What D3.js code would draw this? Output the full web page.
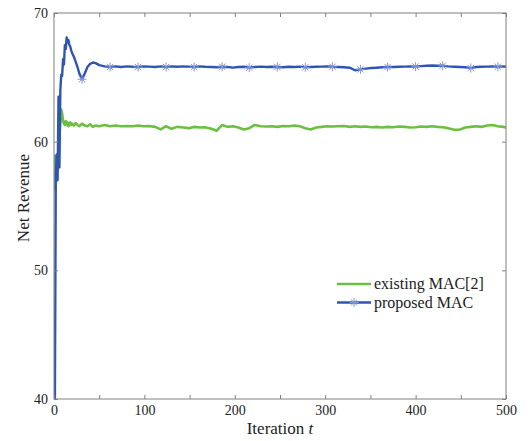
<!DOCTYPE html>
<meta charset="utf-8">
<script src="https://d3js.org/d3.v7.min.js"></script>
<style>
  body { margin: 0; background: #fff; }
  text { font-family: "Liberation Serif", "Times New Roman", serif; fill: #222; }
</style>
<div id="chart"></div>
<script>

var iters = [0,1,2,3,4,5,6,7,8,9,10,11,12,13,14,15,16,17,18,19,20,
  22,24,26,28,31,34,37,40,43,46,50,
  56,62,68,74,81,87,93,99,105,112,118,124,130,136,143,149,155,
  161,167,174,180,186,192,198,204,210,216,222,229,235,241,247,
  253,260,266,272,278,284,290,296,302,308,314,321,327,333,339,
  345,351,357,363,369,375,382,388,394,400,406,412,418,424,430,
  436,443,449,455,461,467,473,479,485,491,497,500];

// proposed MAC
var proposed = [40,40,57.5,59.0,57.0,63.5,58.0,64.0,65.2,65.1,66.4,66.0,67.5,67.2,68.1,67.7,67.9,67.5,67.4,67.1,66.9,
  66.6,66.2,65.8,65.3,64.85,65.3,65.8,66.05,66.15,66.1,65.95,
  65.85,65.8,65.85,65.8,65.85,65.82,65.8,65.85,65.83,65.8,65.85,65.8,65.85,65.82,65.85,65.83,65.8,
  65.85,65.82,65.8,65.78,65.82,65.8,65.75,65.8,65.82,65.75,65.8,65.83,65.8,65.82,65.8,
  65.78,65.82,65.8,65.83,65.78,65.8,65.82,65.83,65.85,65.82,65.8,65.78,65.75,65.55,65.62,
  65.68,65.72,65.75,65.78,65.8,65.8,65.82,65.83,65.85,65.83,65.87,65.9,65.92,65.9,65.9,
  65.85,65.82,65.8,65.78,65.72,65.8,65.82,65.83,65.85,65.82,65.85,65.83];

// existing MAC[2]
var existing = [56.2,58.9,58.0,57.5,58.5,59.5,60.5,61.5,62.5,62.2,61.6,61.4,61.3,61.6,61.35,61.5,61.2,61.35,61.5,61.3,61.4,
  61.25,61.45,61.3,61.2,61.4,61.25,61.2,61.35,61.15,61.25,61.2,
  61.3,61.2,61.25,61.2,61.22,61.2,61.25,61.2,61.22,61.15,60.95,61.2,61.0,61.15,61.1,61.05,61.15,
  61.1,61.12,61.0,60.85,61.3,61.15,61.2,61.1,60.95,61.05,61.3,61.2,61.18,61.2,61.15,
  61.22,61.2,61.25,61.2,61.05,60.95,61.1,61.15,61.2,61.18,61.2,61.22,61.15,61.2,61.15,
  61.18,61.12,61.15,61.1,61.15,61.12,61.18,61.15,61.1,61.12,61.18,61.15,61.2,61.15,61.12,
  61.05,60.92,60.95,61.1,61.15,61.2,61.15,61.25,61.3,61.2,61.15,61.1];

// iterations carrying a '*' marker on the proposed curve
var markerIters = [31,62,93,124,155,186,216,247,278,308,339,369,400,430,461,491];

var xTicks = [0,50,100,150,200,250,300,350,400,450,500];
var xLabels = [0,100,200,300,400,500];
var yTicks = [40,50,60,70];

var seriesNames = ["existing MAC[2]", "proposed MAC"];
var colors = ["#6cbf42", "#2f55b3"];
var markerColor = "#8296d8";

var W = 532, H = 441;
var margin = {top: 13, right: 26, bottom: 42, left: 54};
var width = W - margin.left - margin.right,
    height = H - margin.top - margin.bottom;

var svg = d3.select("#chart").append("svg")
    .attr("width", W)
    .attr("height", H)
  .append("g")
    .attr("transform", "translate(" + margin.left + "," + margin.top + ")");

var x = d3.scaleLinear().domain([0, 500]).range([0, width]);
var y = d3.scaleLinear().domain([40, 70]).range([height, 0]);

// clip so the lines stay inside the box
svg.append("clipPath").attr("id", "clip")
  .append("rect").attr("width", width).attr("height", height);

var line = d3.line()
    .x(function(d) { return x(d.t); })
    .y(function(d) { return y(d.v); });

var dataExisting = iters.map(function(t, i) { return {t: t, v: existing[i]}; });
var dataProposed = iters.map(function(t, i) { return {t: t, v: proposed[i]}; });

var plot = svg.append("g").attr("clip-path", "url(#clip)");

plot.append("path")
    .datum(dataExisting)
    .attr("fill", "none")
    .attr("stroke", colors[0])
    .attr("stroke-width", 2.6)
    .attr("stroke-linejoin", "round")
    .attr("d", line);

plot.append("path")
    .datum(dataProposed)
    .attr("fill", "none")
    .attr("stroke", colors[1])
    .attr("stroke-width", 2.4)
    .attr("stroke-linejoin", "round")
    .attr("d", line);

// asterisk marker
function star(g, r) {
  [0, 45, 90, 135].forEach(function(a) {
    var rad = a * Math.PI / 180;
    g.append("line")
      .attr("x1", -r * Math.cos(rad)).attr("y1", -r * Math.sin(rad))
      .attr("x2", r * Math.cos(rad)).attr("y2", r * Math.sin(rad))
      .attr("stroke", markerColor)
      .attr("stroke-width", 1);
  });
}

dataProposed.filter(function(d) { return markerIters.indexOf(d.t) >= 0; })
  .forEach(function(d) {
    var g = plot.append("g").attr("transform", "translate(" + x(d.t) + "," + y(d.v) + ")");
    star(g, 4.5);
  });

// box + ticks
var axisColor = "#808080";
svg.append("rect")
    .attr("width", width).attr("height", height)
    .attr("fill", "none").attr("stroke", axisColor).attr("stroke-width", 1);

var axB = svg.append("g").attr("transform", "translate(0," + height + ")")
    .call(d3.axisBottom(x).tickValues(xTicks).tickSizeInner(-4).tickSizeOuter(0)
      .tickFormat(function(d) { return xLabels.indexOf(d) >= 0 ? d : ""; }));
var axT = svg.append("g")
    .call(d3.axisTop(x).tickValues(xTicks).tickSizeInner(-4).tickSizeOuter(0).tickFormat(""));
var axL = svg.append("g")
    .call(d3.axisLeft(y).tickValues(yTicks).tickSizeInner(-4).tickSizeOuter(0));
var axR = svg.append("g").attr("transform", "translate(" + width + ",0)")
    .call(d3.axisRight(y).tickValues(yTicks).tickSizeInner(-4).tickSizeOuter(0).tickFormat(""));

[axB, axT, axL, axR].forEach(function(a) {
  a.select(".domain").remove();
  a.selectAll(".tick line").attr("stroke", axisColor);
  a.selectAll(".tick text")
    .style("font-family", "'Liberation Serif', serif")
    .style("font-size", "14px")
    .attr("fill", "#222");
});
axB.selectAll(".tick text").attr("y", 6).attr("dy", "0.71em");
axL.selectAll(".tick text").attr("x", -6);

// axis titles
svg.append("text")
    .attr("x", width / 2)
    .attr("y", height + 35)
    .attr("text-anchor", "middle")
    .style("font-size", "17px")
    .html("Iteration <tspan font-style='italic'>t</tspan>");

svg.append("text")
    .attr("transform", "rotate(-90)")
    .attr("x", -(198 - margin.top))
    .attr("y", -25)
    .attr("text-anchor", "middle")
    .style("font-size", "17px")
    .text("Net Revenue");

// legend
var legend = svg.append("g").attr("transform", "translate(" + (337 - margin.left) + "," + (284 - margin.top) + ")");
seriesNames.forEach(function(name, i) {
  var row = legend.append("g").attr("transform", "translate(0," + (i * 18.5) + ")");
  row.append("line")
    .attr("x1", 0).attr("x2", 34)
    .attr("stroke", colors[i]).attr("stroke-width", 2.4);
  if (i === 1) {
    var g = row.append("g").attr("transform", "translate(17,0)");
    star(g, 4.5);
  }
  row.append("text")
    .attr("x", 37).attr("y", 5)
    .style("font-size", "16px")
    .text(name);
});

</script>
